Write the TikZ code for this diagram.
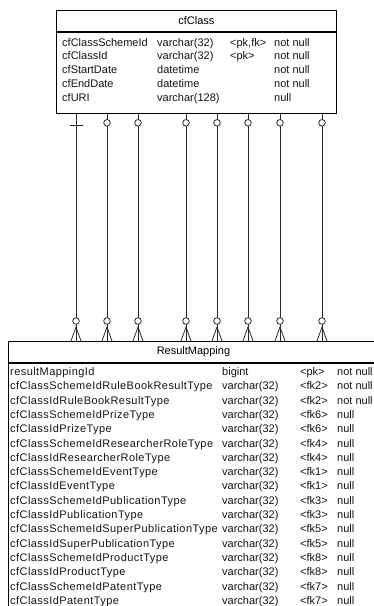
\documentclass[tikz,border=0pt]{standalone}
\usepackage{fontspec}
\setmainfont{Liberation Sans}
\usepackage{tikz}
\usetikzlibrary{positioning, calc}
\definecolor{mydark}{RGB}{20,20,20}
\definecolor{linegray}{RGB}{40,40,40}
\tikzset{
  tblhead/.style={rectangle, draw=black, fill=white, anchor=north west,
    inner sep=0pt, line width=0.9pt, font=\fontsize{11}{13}\selectfont},
  tblbody/.style={rectangle, draw=black, fill=white, anchor=north west,
    inner sep=0pt, line width=0.9pt},
  cell/.style={anchor=base west, inner sep=0pt,
    font=\fontsize{11}{13}\selectfont, text=mydark},
  widecell/.style={cell, font=\fontsize{11}{13}\selectfont\addfontfeature{LetterSpace=4}},
  rel/.style={line width=0.8pt, color=linegray}
}

\begin{document}
\begin{tikzpicture}[x=1pt, y=-1pt]
  \useasboundingbox (0,0) rectangle (374,606);
  \clip (0,0) rectangle (374,606);

  % cfClass table
  \node[tblhead, minimum width=280pt, minimum height=21pt] (clshead) at (56,10) {cfClass};
  \node[tblbody, minimum width=280pt, minimum height=81pt] (clsbody) at (clshead.south west) {};
  \foreach \n/\t/\k/\z [count=\i from 0] in {
      cfClassSchemeId/varchar(32)/{<pk,fk>}/not null,
      cfClassId/varchar(32)/{<pk>}/not null,
      cfStartDate/datetime/{}/not null,
      cfEndDate/datetime/{}/not null,
      cfURI/varchar(128)/{}/null} {
    \node[cell] (clsname\i) at (62, 46+13.9*\i) {\n};
    \node[cell] (clstype\i) at (157, 46+13.9*\i) {\t};
    \node[cell] (clskey\i) at (230, 46+13.9*\i) {\k};
    \node[cell] (clsnull\i) at (274, 46+13.9*\i) {\z};
  }

  % ResultMapping table
  \node[tblhead, minimum width=370pt, minimum height=21pt] (rmhead) at (8,341) {ResultMapping};
  \node[tblbody, minimum width=370pt, minimum height=280pt] (rmbody) at (rmhead.south west) {};
  \foreach \n/\t/\k/\z [count=\i from 0] in {
      resultMappingId/bigint/{<pk>}/not null,
      cfClassSchemeIdRuleBookResultType/varchar(32)/{<fk2>}/not null,
      cfClassIdRuleBookResultType/varchar(32)/{<fk2>}/not null,
      cfClassSchemeIdPrizeType/varchar(32)/{<fk6>}/null,
      cfClassIdPrizeType/varchar(32)/{<fk6>}/null,
      cfClassSchemeIdResearcherRoleType/varchar(32)/{<fk4>}/null,
      cfClassIdResearcherRoleType/varchar(32)/{<fk4>}/null,
      cfClassSchemeIdEventType/varchar(32)/{<fk1>}/null,
      cfClassIdEventType/varchar(32)/{<fk1>}/null,
      cfClassSchemeIdPublicationType/varchar(32)/{<fk3>}/null,
      cfClassIdPublicationType/varchar(32)/{<fk3>}/null,
      cfClassSchemeIdSuperPublicationType/varchar(32)/{<fk5>}/null,
      cfClassIdSuperPublicationType/varchar(32)/{<fk5>}/null,
      cfClassSchemeIdProductType/varchar(32)/{<fk8>}/null,
      cfClassIdProductType/varchar(32)/{<fk8>}/null,
      cfClassSchemeIdPatentType/varchar(32)/{<fk7>}/null,
      cfClassIdPatentType/varchar(32)/{<fk7>}/null} {
    \node[widecell] (rmname\i) at (10, 375.5+14.3*\i) {\n};
    \node[cell] (rmtype\i) at (222, 375.5+14.3*\i) {\t};
    \node[cell] (rmkey\i) at (300, 375.5+14.3*\i) {\k};
    \node[cell] (rmnull\i) at (337, 375.5+14.3*\i) {\z};
  }

  % Relationships: optional many on the ResultMapping side
  \foreach \x [count=\j] in {76,107,138,186,217,248,280,322} {
    \coordinate (top\j) at (clsbody.south -| \x,0);
    \coordinate (bot\j) at (rmhead.north -| \x,0);
    \draw[rel] (top\j) -- (bot\j);
    \draw[rel] ($(bot\j)+(-5,0)$) -- ($(bot\j)+(0,-14)$) -- ($(bot\j)+(5,0)$);
    \draw[rel, fill=white] ($(bot\j)+(0,-20)$) circle[radius=3.3pt];
  }

  % cfClass side: one mandatory bar, the rest optional
  \draw[rel] ($(top1)+(-6.5,12)$) -- ($(top1)+(6.5,12)$);
  \foreach \j in {2,...,8}
    \draw[rel, fill=white] ($(top\j)+(0,9)$) circle[radius=3.3pt];

\end{tikzpicture}
\end{document}
